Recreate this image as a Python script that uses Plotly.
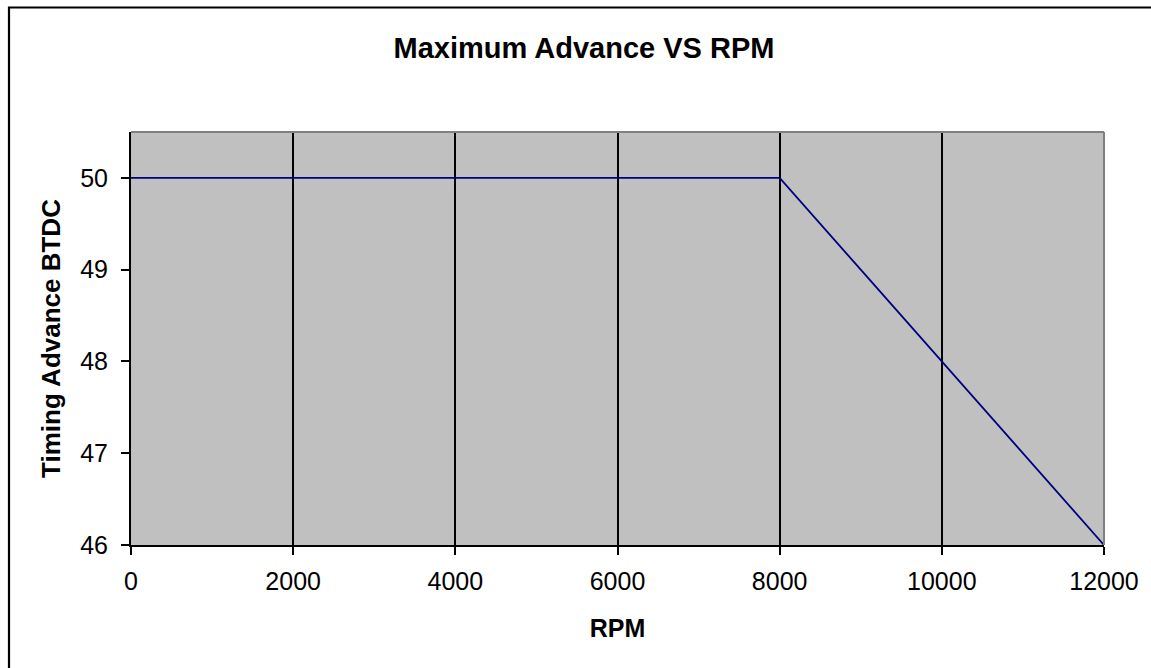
import plotly.graph_objects as go

rpm = [0, 1000, 2000, 3000, 4000, 5000, 6000, 7000, 8000, 9000, 10000, 11000, 12000]
advance = [50, 50, 50, 50, 50, 50, 50, 50, 50, 49, 48, 47, 46]
x_ticks = [0, 2000, 4000, 6000, 8000, 10000, 12000]
y_ticks = [46, 47, 48, 49, 50]

W, H = 1151, 668
L, R, T, B = 131, 1104, 132, 545

FONT = "Arial, Liberation Sans, sans-serif"

fig = go.Figure()
fig.add_trace(go.Scatter(x=rpm, y=advance, mode="lines",
                         line=dict(color="#000080", width=1.8),
                         hoverinfo="x+y", showlegend=False))

pw, ph = R - L, B - T
def px(xpix):
    return (xpix - L) / pw
def py(ypix):
    return (B - ypix) / ph

shapes = [
    dict(type="rect", xref="paper", yref="paper",
         x0=px(9), x1=px(1175), y0=py(7.5), y1=py(700),
         line=dict(color="black", width=2.2), fillcolor="rgba(0,0,0,0)", layer="below"),
    dict(type="line", xref="paper", yref="paper", x0=0, x1=1, y0=1, y1=1,
         line=dict(color="#808080", width=2), layer="above"),
    dict(type="line", xref="paper", yref="paper", x0=1, x1=1, y0=0, y1=1,
         line=dict(color="#808080", width=2), layer="above"),
]

fig.update_layout(
    width=W, height=H,
    margin=dict(l=L, r=W - R, t=T, b=H - B, pad=0),
    paper_bgcolor="white",
    plot_bgcolor="#C0C0C0",
    font=dict(family=FONT, color="black", size=25),
    title=dict(text="<b>Maximum Advance VS RPM</b>", xref="container", yref="container",
               x=584 / W, y=1 - 48 / H, xanchor="center", yanchor="middle",
               font=dict(size=29, family=FONT, color="black")),
    shapes=shapes,
    xaxis=dict(range=[0, 12000], tickvals=x_ticks, ticktext=[str(v) for v in x_ticks],
               showgrid=True, gridcolor="black", gridwidth=1.8,
               showline=True, linecolor="black", linewidth=2,
               ticks="outside", ticklen=8, tickwidth=1.5, tickcolor="black",
               ticklabelstandoff=5, zeroline=False,
               tickfont=dict(size=25, family=FONT),
               title=dict(text="<b>RPM</b>", standoff=25, font=dict(size=25, family=FONT))),
    yaxis=dict(range=[46, 50.5], tickvals=y_ticks, ticktext=[str(v) for v in y_ticks],
               showgrid=False,
               showline=True, linecolor="black", linewidth=2,
               ticks="outside", ticklen=8, tickwidth=1.5, tickcolor="black",
               ticklabelstandoff=8, zeroline=False,
               tickfont=dict(size=25, family=FONT),
               title=dict(text="<b>Timing Advance BTDC</b>", standoff=12, font=dict(size=26, family=FONT))),
)

fig.write_html("out.html", config={"displayModeBar": False},
               post_script="document.body.style.margin='0px';document.body.style.overflow='hidden';")
